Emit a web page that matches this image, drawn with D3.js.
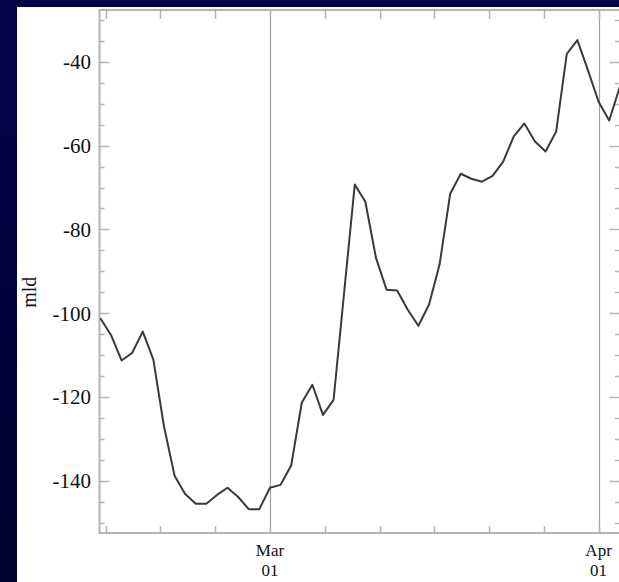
<!DOCTYPE html>
<html>
<head>
<meta charset="utf-8">
<script src="https://cdn.jsdelivr.net/npm/d3@7/dist/d3.min.js"></script>
<style>
  html, body { margin: 0; padding: 0; background: #000038; }
  svg { display: block; }
</style>
</head>
<body>
<div id="chart"></div>
<script>
//---------------------------------------------------------------------
// mld time series, days counted from Mar 01
//---------------------------------------------------------------------

var days = [-16, -15, -14, -13, -12, -11, -10, -9, -8, -7, -6, -5, -4, -3, -2, -1,
            0, 1, 2, 3, 4, 5, 6, 7, 8, 9, 10, 11, 12, 13, 14, 15, 16, 17, 18, 19,
            20, 21, 22, 23, 24, 25, 26, 27, 28, 29, 30, 31, 32, 33];
var mld = [-101.2, -105.2, -111.3, -109.5, -104.4, -111.1, -127, -138.8, -143.2, -145.5,
           -145.5, -143.4, -141.7, -143.9, -146.8, -146.8,
           -141.7, -141, -136.4, -121.4, -117.1, -124.3, -120.7, -95, -69.3, -73.4,
           -86.8, -94.4, -94.6, -99.2, -103, -98, -88.4, -71.5, -66.7, -67.9,
           -68.6, -67.2, -63.8, -57.8, -54.7, -59, -61.4, -56.6, -38.1, -34.8,
           -42, -49.5, -54, -46];

var monthTicks = [0, 31];
var monthNames = ["Mar", "Apr"];
var monthDays = ["01", "01"];
var yMajor = [-140, -120, -100, -80, -60, -40];
var yLabel = "mld";

var W = 619, H = 582;
var margin = {top: 10, right: 0, bottom: 49, left: 99.5};
var plotRight = 620;

var svg = d3.select("#chart").append("svg")
    .attr("width", W)
    .attr("height", H);

// dark slide background + white page
var defs = svg.append("defs");
var grad = defs.append("linearGradient")
    .attr("id", "bg").attr("x1", 0).attr("y1", 0).attr("x2", 0).attr("y2", 1);
grad.append("stop").attr("offset", 0).attr("stop-color", "#04044c");
grad.append("stop").attr("offset", 1).attr("stop-color", "#00002e");
svg.append("rect").attr("width", W).attr("height", H).attr("fill", "url(#bg)");
svg.append("rect").attr("x", 17).attr("y", 7)
    .attr("width", W - 17).attr("height", H - 7).attr("fill", "#fff");

var x = d3.scaleLinear()
    .domain([-16.08, 33.02])
    .range([margin.left, plotRight]);
var y = d3.scaleLinear()
    .domain([-152.5, -27.6])
    .range([H - margin.bottom, margin.top]);

var axisCol = "#b4b4b4";
var x0 = x.range()[0], x1 = x.range()[1];
var y0 = y.range()[0], y1 = y.range()[1];

// minor ticks: 6 per month on x, every 5 on y
var xMinor = d3.range(-3, 7).map(function (k) { return k * 31 / 6; });
var yMinor = d3.range(-150, -25, 5);

var g = svg.append("g");

// month grid lines
g.selectAll("line.grid").data(monthTicks).enter().append("line")
    .attr("class", "grid")
    .attr("x1", function (d) { return Math.round(x(d)) + 0.5; })
    .attr("x2", function (d) { return Math.round(x(d)) + 0.5; })
    .attr("y1", y1).attr("y2", y0)
    .attr("stroke", "#a0a0a0").attr("stroke-width", 1.2);

// x minor ticks, bottom and top
xMinor.forEach(function (d) {
  var px = Math.round(x(d)) + 0.5;
  g.append("line").attr("x1", px).attr("x2", px)
      .attr("y1", y0).attr("y2", y0 - 7)
      .attr("stroke", axisCol).attr("stroke-width", 1.5);
  g.append("line").attr("x1", px).attr("x2", px)
      .attr("y1", y1).attr("y2", y1 + 9)
      .attr("stroke", axisCol).attr("stroke-width", 1.5);
});

// y ticks, left and right
yMinor.forEach(function (d) {
  var py = Math.round(y(d)) + 0.5;
  var len = (d % 20 === 0) ? 10 : 5;
  g.append("line").attr("x1", x0).attr("x2", x0 + len)
      .attr("y1", py).attr("y2", py)
      .attr("stroke", axisCol).attr("stroke-width", 1.5);
  g.append("line").attr("x1", x1).attr("x2", x1 - len)
      .attr("y1", py).attr("y2", py)
      .attr("stroke", axisCol).attr("stroke-width", 1.5);
});

// frame
g.append("rect")
    .attr("x", x0).attr("y", y1)
    .attr("width", x1 - x0).attr("height", y0 - y1)
    .attr("fill", "none")
    .attr("stroke", axisCol).attr("stroke-width", 2);

// y labels
g.selectAll("text.ylab").data(yMajor).enter().append("text")
    .attr("class", "ylab")
    .attr("x", 91)
    .attr("y", function (d) { return y(d); })
    .attr("dy", "0.35em")
    .attr("text-anchor", "end")
    .attr("font-family", "Liberation Serif, serif")
    .attr("font-size", 21)
    .attr("fill", "#111")
    .text(function (d) { return d; });

// x labels, two lines
monthTicks.forEach(function (d, i) {
  var t = g.append("text")
      .attr("text-anchor", "middle")
      .attr("font-family", "Liberation Serif, serif")
      .attr("font-size", 17)
      .attr("fill", "#111");
  t.append("tspan").attr("x", x(d)).attr("y", 556).text(monthNames[i]);
  t.append("tspan").attr("x", x(d)).attr("y", 576).text(monthDays[i]);
});

// axis title
g.append("text")
    .attr("transform", "translate(36," + y(-95) + ") rotate(-90)")
    .attr("text-anchor", "middle")
    .attr("font-family", "Liberation Serif, serif")
    .attr("font-size", 20)
    .attr("fill", "#111")
    .text(yLabel);

// the series
var line = d3.line()
    .x(function (d, i) { return x(days[i]); })
    .y(function (d) { return y(d); });
g.append("path")
    .datum(mld)
    .attr("d", line)
    .attr("fill", "none")
    .attr("stroke", "#3a3a3a")
    .attr("stroke-width", 2)
    .attr("stroke-linejoin", "round");
</script>
</body>
</html>
